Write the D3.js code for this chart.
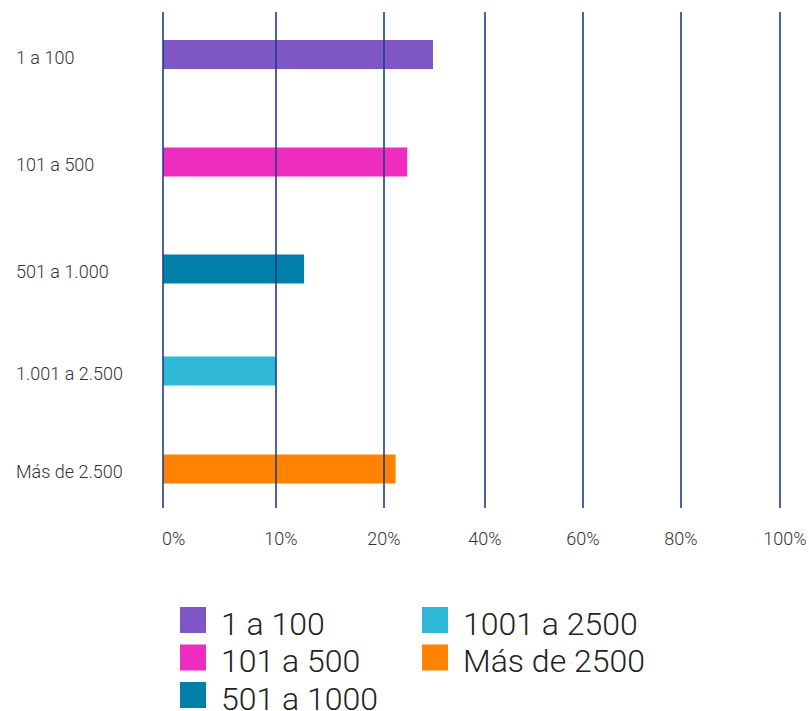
<!DOCTYPE html>
<html><head><meta charset="utf-8">
<script src="https://cdn.jsdelivr.net/npm/d3@7"></script>
<style>body{margin:0;background:#fff}svg{display:block;font-family:Roboto,"Noto Sans",sans-serif}</style>
</head><body>
<svg id="c" width="809" height="711"></svg>
<script>
const categories = ["1 a 100","101 a 500","501 a 1.000","1.001 a 2.500","Más de 2.500"];
const legendLabels = ["1 a 100","101 a 500","501 a 1000","1001 a 2500","Más de 2500"];
const values = [29.7, 24.6, 12.6, 10.0, 22.3];
const colors = ["#7e57c4","#ee2dbf","#0080a8","#2eb8d6","#ff8200"];
const tickValues = [0,10,20,40,60,80,100];
const tickLabels = ["0%","10%","20%","40%","60%","80%","100%"];

const svg = d3.select("#c");
const x = d3.scaleLinear().domain(tickValues).range([163,276,384,485,583,681,780]);
const y = d3.scaleOrdinal().domain(categories).range([54.5,162,269,371,469]);
const barH = 29;
const gridTop = 12, gridBottom = 508;

// bars
svg.append("g").selectAll("rect").data(categories).join("rect")
  .attr("x", x(0))
  .attr("y", d => y(d) - barH/2)
  .attr("width", (d,i) => x(values[i]) - x(0))
  .attr("height", barH)
  .attr("fill", (d,i) => colors[i]);

// grid lines (drawn over bars)
svg.append("g").selectAll("line").data(tickValues).join("line")
  .attr("x1", d => x(d)).attr("x2", d => x(d))
  .attr("y1", gridTop).attr("y2", gridBottom)
  .attr("stroke", "#1f3c88").attr("stroke-width", 1.6);

// tick labels
svg.append("g").selectAll("text").data(tickValues).join("text")
  .attr("x", (d,i) => i === 0 ? x(d) - 1 : x(d) + (i === 1 || i === 6 ? 5 : 0))
  .attr("y", 545)
  .attr("text-anchor", (d,i) => i === 0 ? "start" : "middle")
  .attr("font-size", 18).attr("font-weight", 300).attr("fill", "#333")
  .text((d,i) => tickLabels[i]);

// category labels
svg.append("g").selectAll("text").data(categories).join("text")
  .attr("x", 16).attr("y", d => y(d) + 9)
  .attr("font-size", 18).attr("font-weight", 300).attr("fill", "#333")
  .text(d => d);

// legend
const lg = svg.append("g").selectAll("g").data(legendLabels).join("g")
  .attr("transform", (d,i) => `translate(${i < 3 ? 180 : 422},${607 + (i % 3) * 37.5})`);
lg.append("rect").attr("width", 26).attr("height", 26).attr("fill", (d,i) => colors[i]);
lg.append("text").attr("x", 41).attr("y", 27.5)
  .attr("font-size", 32).attr("font-weight", 300).attr("fill", "#222")
  .text(d => d);
</script>
</body></html>
